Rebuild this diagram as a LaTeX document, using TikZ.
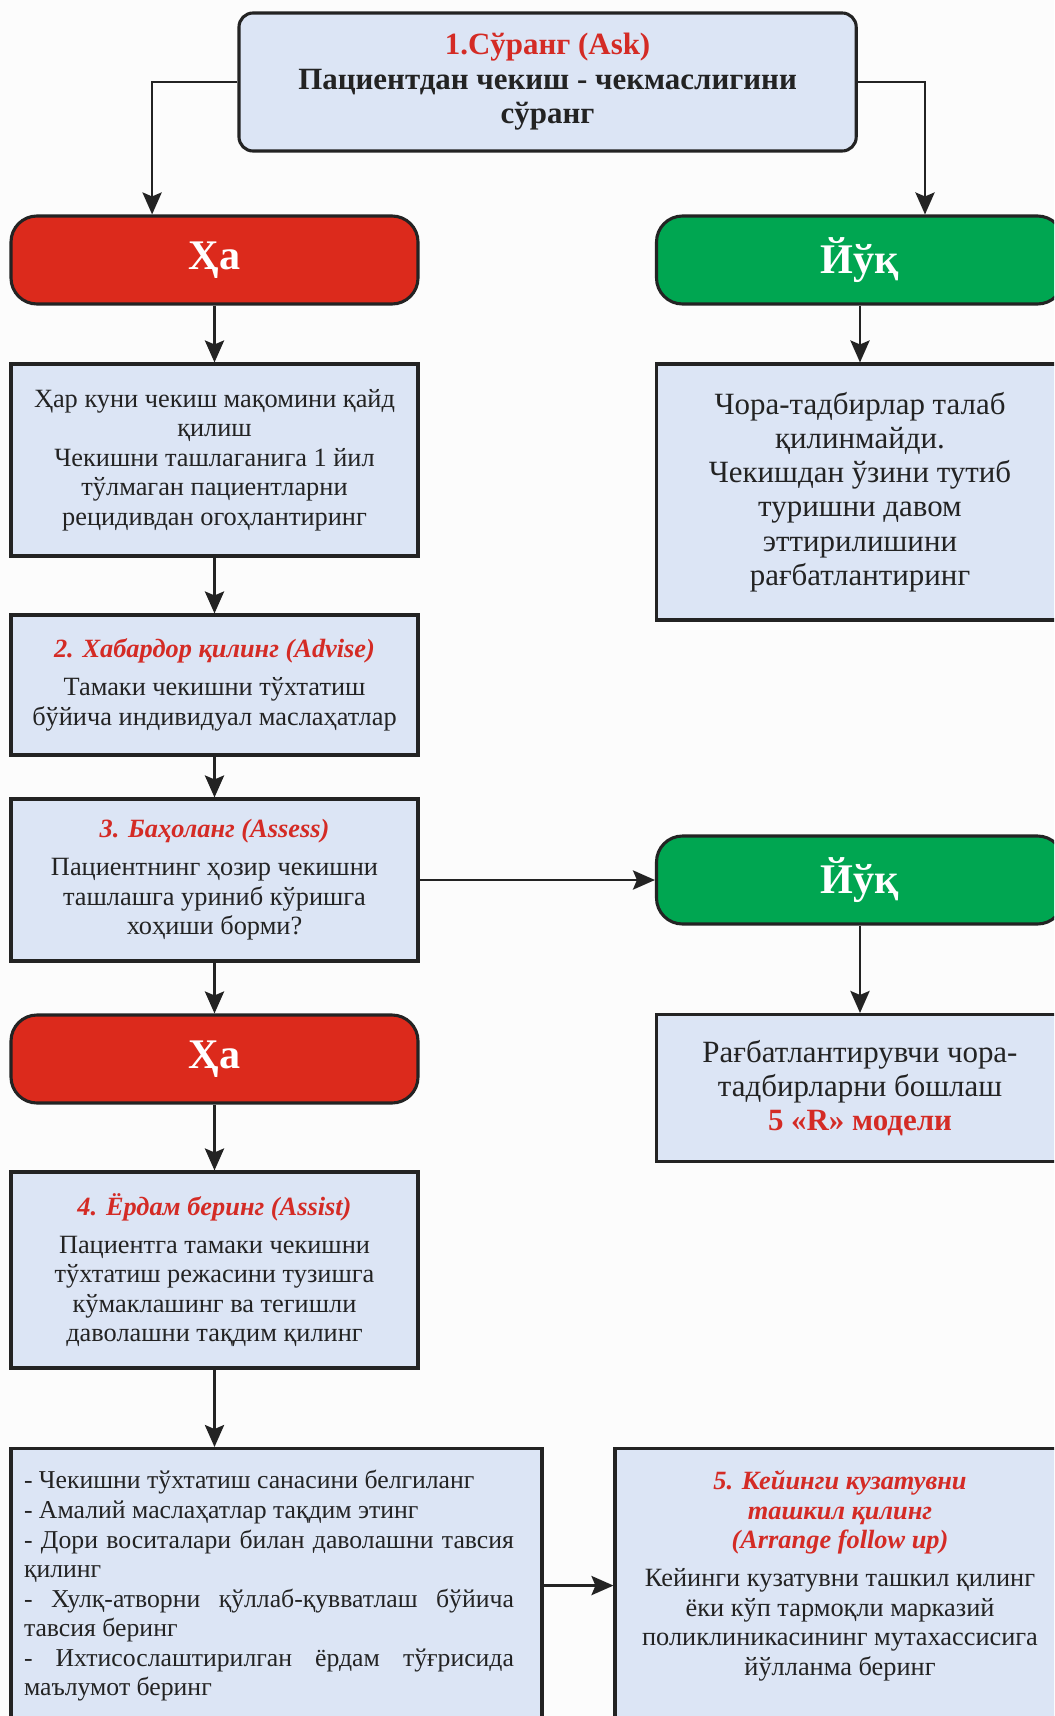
\documentclass[tikz,border=0pt]{standalone}
\usepackage{fontspec}
\setmainfont{Liberation Serif}
\usetikzlibrary{arrows.meta}
\definecolor{stagered}{RGB}{212,43,37}
\definecolor{yesred}{RGB}{220,42,28}
\definecolor{nogreen}{RGB}{0,166,81}
\definecolor{boxblue}{RGB}{220,229,245}
\definecolor{edge}{RGB}{35,35,35}
\newcommand{\stage}[1]{{\color{stagered}\bfseries\itshape #1}}

\begin{document}
\begin{tikzpicture}[
  every node/.style={text=edge},
  plainbox/.style={draw=edge,line width=2.2pt,fill=boxblue,minimum width=10.175cm,align=center,inner sep=0pt,font=\fontsize{18.75}{21}\selectfont},
  rightbox/.style={plainbox,font=\fontsize{22}{24.4}\selectfont},
  answer/.style={draw=edge,line width=2.2pt,rounded corners=0.65cm,minimum width=10.175cm,minimum height=2.2cm,text=white,font=\fontsize{30}{32}\selectfont\bfseries},
  arr/.style={draw=edge,line width=1.8pt,-{Stealth[length=5.5mm,width=4.8mm,inset=1mm]}}
]
\useasboundingbox (0,0) rectangle (26.35,-42.9);
\clip (0,0) rectangle (26.35,-42.9);
\fill[white!99!black] (0,0) rectangle (26.35,-42.9);

\draw (13.69,-2.05) node[plainbox,rounded corners=0.35cm,minimum width=15.43cm,minimum height=3.45cm,font=\fontsize{22}{24.5}\selectfont\bfseries] (ask) {{\color{stagered}1.Сўранг (Ask)}\\ Пациентдан чекиш - чекмаслигини\\ сўранг};
\draw (5.3625,-6.5) node[answer,fill=yesred] (yes1) {Ҳа};
\draw (21.5,-6.5) node[answer,fill=nogreen] (no1) {Йўқ};

\draw (5.3625,-11.5) node[plainbox,minimum height=4.8cm] (record) {Ҳар куни чекиш мақомини қайд\\ қилиш\\ Чекишни ташлаганига 1 йил\\ тўлмаган пациентларни\\ рецидивдан огоҳлантиринг};
\draw (21.5,-12.3) node[rightbox,minimum height=6.4cm] (noaction) {Чора-тадбирлар талаб\\ қилинмайди.\\ Чекишдан ўзини тутиб\\ туришни давом\\ эттирилишини\\ рағбатлантиринг};

\draw (5.3625,-17.125) node[plainbox,minimum height=3.5cm] (advise) {\stage{2. Хабардор қилинг (Advise)}\\[6pt] Тамаки чекишни тўхтатиш\\ бўйича индивидуал маслаҳатлар};
\draw (5.3625,-22.0) node[plainbox,minimum height=4.05cm] (assess) {\stage{3. Баҳоланг (Assess)}\\[6pt] Пациентнинг ҳозир чекишни\\ ташлашга уриниб кўришга\\ хоҳиши борми?};
\draw (21.5,-22.0) node[answer,fill=nogreen] (no2) {Йўқ};
\draw (21.5,-27.2) node[rightbox,minimum height=3.675cm] (motiv) {Рағбатлантирувчи чора-\\ тадбирларни бошлаш\\ {\color{stagered}\bfseries 5 «R» модели}};
\draw (5.3625,-26.475) node[answer,fill=yesred] (yes2) {Ҳа};
\draw (5.3625,-31.75) node[plainbox,minimum height=4.9cm] (assist) {\stage{4. Ёрдам беринг (Assist)}\\[6pt] Пациентга тамаки чекишни\\ тўхтатиш режасини тузишга\\ кўмаклашинг ва тегишли\\ даволашни тақдим қилинг};

\draw (6.9125,-36.175) node[plainbox,anchor=north,minimum width=13.275cm,inner ysep=0.55cm,font=\fontsize{18.3}{21}\selectfont] (plan) {\begin{minipage}[t][5.75cm][t]{12.25cm}\setlength{\parindent}{0pt}%
- Чекишни тўхтатиш санасини белгиланг\par
- Амалий маслаҳатлар тақдим этинг\par
- Дори воситалари билан даволашни тавсия\linebreak қилинг\par
- Хулқ-атворни қўллаб-қувватлаш бўйича\linebreak тавсия беринг\par
- Ихтисослаштирилган ёрдам тўғрисида\linebreak маълумот беринг\par
\end{minipage}\hspace*{0.375cm}};
\draw (21.0,-36.175) node[plainbox,anchor=north,minimum width=11.25cm,inner ysep=0.55cm] (follow) {\begin{minipage}[t][5.75cm][t]{10.6cm}\centering
\stage{5. Кейинги кузатувни\\ ташкил қилинг\\ (Arrange follow up)}\\[6pt]
Кейинги кузатувни ташкил қилинг\\ ёки кўп тармоқли марказий\\ поликлиникасининг мутахассисига\\ йўлланма беринг
\end{minipage}};

% connectors
\draw[arr] (ask.west) -| ([xshift=-1.56cm]yes1.north);
\draw[arr] (ask.east) -| ([xshift=1.625cm]no1.north);
\draw[arr] (yes1) -- (record);
\draw[arr] (no1) -- (noaction);
\draw[arr] (record) -- (advise);
\draw[arr] (advise) -- (assess);
\draw[arr] (assess) -- (no2);
\draw[arr] (no2) -- (motiv);
\draw[arr] (assess) -- (yes2);
\draw[arr] (yes2) -- (assist);
\draw[arr] (assist.south) -- (assist.south |- plan.north);
\draw[arr] (plan.east) -- (plan.east -| follow.west);
\end{tikzpicture}
\end{document}
